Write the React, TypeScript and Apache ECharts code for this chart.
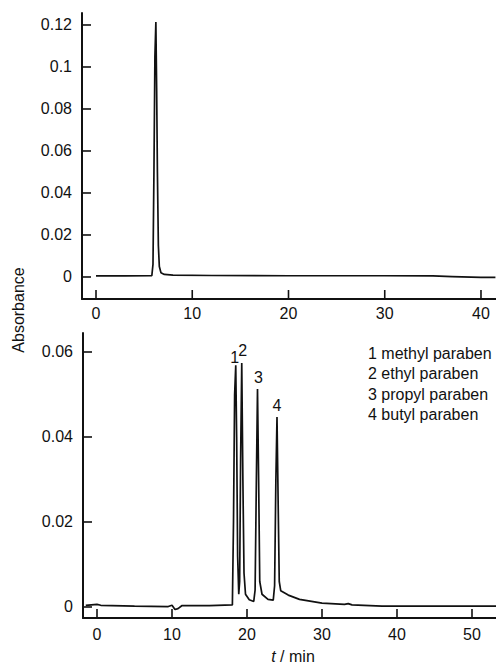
import React, { useEffect, useRef } from "react";
import * as echarts from "echarts";

// Top chromatogram (time in min, absorbance)
const topTime = [0, 3, 5.8, 5.92, 6.02, 6.12, 6.22, 6.3, 6.38, 6.48, 6.58, 6.75, 7.1, 8, 12, 20, 30, 35, 37, 40, 41.5];
const topAbs = [0.0005, 0.0005, 0.0006, 0.006, 0.05, 0.105, 0.1214, 0.09, 0.05, 0.015, 0.005, 0.002, 0.0012, 0.0009, 0.0007, 0.0006, 0.0006, 0.0005, 0.0002, -0.0002, -0.0002];

// Bottom chromatogram
const bottomTime = [-1.5, 0, 0.5, 5, 9.5, 10, 10.4, 10.8, 11.3, 15, 18.05, 18.2, 18.35, 18.5, 18.62, 18.75, 18.9, 19.02, 19.15, 19.3, 19.45, 19.6, 19.8, 20.3, 20.9, 21.08, 21.25, 21.4, 21.55, 21.7, 22.0, 22.8, 23.5, 23.68, 23.85, 24.0, 24.15, 24.3, 24.5, 25.5, 27, 30, 33, 33.5, 34, 38, 53.2];
const bottomAbs = [0.0004, 0.0006, 0.0004, 0.0002, 0.0001, 0.0004, -0.0006, -0.0004, 0.0003, 0.0003, 0.0005, 0.02, 0.05, 0.0569, 0.04, 0.012, 0.003, 0.006, 0.035, 0.0574, 0.03, 0.008, 0.003, 0.0017, 0.0013, 0.004, 0.03, 0.0513, 0.03, 0.006, 0.003, 0.0018, 0.0016, 0.005, 0.03, 0.0447, 0.025, 0.006, 0.0038, 0.0028, 0.0018, 0.0009, 0.0006, 0.0008, 0.0005, 0.0002, 0.0002];

// Peak labels
const peakLabels = ["1", "2", "3", "4"];
const peakTime = [18.5, 19.3, 21.4, 24.0];
const peakAbs = [0.0569, 0.0574, 0.0513, 0.0447];
const peakOffsets = [[-1, -8], [1, -13], [1, -11], [0, -12]];

const legendLines = ["1 methyl paraben", "2 ethyl paraben", "3 propyl paraben", "4 butyl paraben"];

// Axis ranges and tick values
const topXRange = [-1.455, 41.56];
const topYRange = [-0.01048, 0.12571];
const bottomXRange = [-1.867, 53.2];
const bottomYRange = [-0.00259, 0.06447];
const topXTicks = [0, 10, 20, 30, 40];
const topYTicks = [0, 0.02, 0.04, 0.06, 0.08, 0.1, 0.12];
const bottomXTicks = [0, 10, 20, 30, 40, 50];
const bottomYTicks = [0, 0.02, 0.04, 0.06];

const FONT = "'Liberation Sans', Arial, Helvetica, sans-serif";
const INK = "#111";
const TICK_LEN = 9;

export default function App() {
  const ref = useRef<HTMLDivElement>(null);
  useEffect(() => {
    if (!ref.current) return;
    const chart = echarts.init(ref.current, undefined, { renderer: "svg" });
    const line = { show: true, onZero: false, lineStyle: { color: INK, width: 2 } };
    const label = (margin: number) => ({ color: INK, fontSize: 16, fontFamily: FONT, showMinLabel: false, showMaxLabel: false, margin });
    const noTick = { show: false };

    const tickSeries = (gi: number, vals: number[], fixed: number, dir: "x" | "y") => ({
      type: "custom",
      xAxisIndex: gi,
      yAxisIndex: gi,
      clip: false,
      silent: true,
      data: vals.map((v) => (dir === "x" ? [v, fixed] : [fixed, v])),
      renderItem: (_params: any, api: any) => {
        const p = api.coord([api.value(0), api.value(1)]);
        const x2 = dir === "x" ? p[0] : p[0] + TICK_LEN;
        const y2 = dir === "x" ? p[1] - TICK_LEN : p[1];
        return {
          type: "line",
          shape: { x1: p[0], y1: p[1], x2, y2 },
          style: { stroke: INK, lineWidth: 1.6 },
        };
      },
    });

    chart.setOption({
      animation: false,
      backgroundColor: "#fff",
      grid: [
        { left: 82, top: 13, width: 414, height: 286, containLabel: false },
        { left: 83, top: 333, width: 413, height: 285, containLabel: false },
      ],
      xAxis: [
        { type: "value", gridIndex: 0, min: topXRange[0], max: topXRange[1], minInterval: 10, maxInterval: 10, axisLine: line, axisTick: noTick, splitLine: { show: false }, axisLabel: label(6) },
        { type: "value", gridIndex: 1, min: bottomXRange[0], max: bottomXRange[1], minInterval: 10, maxInterval: 10, axisLine: line, axisTick: noTick, splitLine: { show: false }, axisLabel: label(8) },
      ],
      yAxis: [
        { type: "value", gridIndex: 0, min: topYRange[0], max: topYRange[1], minInterval: 0.02, maxInterval: 0.02, axisLine: line, axisTick: noTick, splitLine: { show: false }, axisLabel: label(10) },
        { type: "value", gridIndex: 1, min: bottomYRange[0], max: bottomYRange[1], minInterval: 0.02, maxInterval: 0.02, axisLine: line, axisTick: noTick, splitLine: { show: false }, axisLabel: label(10) },
      ],
      series: [
        {
          type: "line", xAxisIndex: 0, yAxisIndex: 0, showSymbol: false, symbol: "none",
          lineStyle: { color: INK, width: 1.7 },
          data: topTime.map((t, i) => [t, topAbs[i]]),
        },
        {
          type: "line", xAxisIndex: 1, yAxisIndex: 1, showSymbol: false, symbol: "none",
          lineStyle: { color: INK, width: 1.7 },
          data: bottomTime.map((t, i) => [t, bottomAbs[i]]),
        },
        {
          type: "scatter", xAxisIndex: 1, yAxisIndex: 1, symbolSize: 0,
          itemStyle: { opacity: 1 },
          data: peakTime.map((t, i) => ({
            value: [t, peakAbs[i]],
            label: { show: true, formatter: peakLabels[i], position: "inside", offset: peakOffsets[i], color: INK, opacity: 1, fontSize: 16, fontFamily: FONT },
          })),
        },
        tickSeries(0, topXTicks, topYRange[0], "x"),
        tickSeries(0, topYTicks, topXRange[0], "y"),
        tickSeries(1, bottomXTicks, bottomYRange[0], "x"),
        tickSeries(1, bottomYTicks, bottomXRange[0], "y"),
      ],
      graphic: [
        {
          type: "text", x: 18, y: 310, rotation: Math.PI / 2,
          style: { text: "Absorbance", fontSize: 16, fontFamily: FONT, fill: INK, align: "center", verticalAlign: "middle" },
        },
        {
          type: "text", x: 368, y: 343,
          style: { text: legendLines.join("\n"), fontSize: 16, lineHeight: 20.5, fontFamily: FONT, fill: INK, align: "left", verticalAlign: "top" },
        },
        {
          type: "text", x: 293, y: 656,
          style: {
            text: "{i|t} / min", fontSize: 16, fontFamily: FONT, fill: INK, align: "center", verticalAlign: "middle",
            rich: { i: { fontStyle: "italic", fontSize: 16, fontFamily: FONT, fill: INK } },
          },
        },
      ],
    });
    return () => chart.dispose();
  }, []);
  return <div ref={ref} style={{ position: "fixed", left: 0, top: 0, width: 496, height: 664 }} />;
}
